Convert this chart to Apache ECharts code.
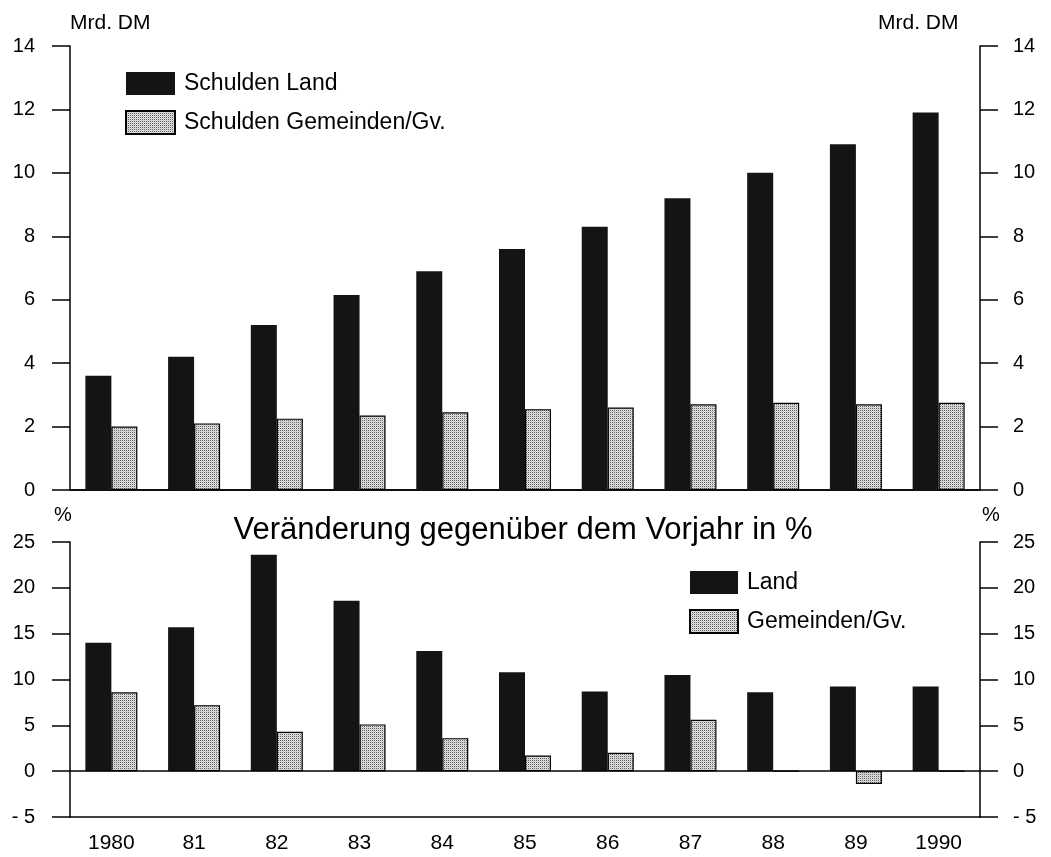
<!DOCTYPE html>
<html>
<head>
<meta charset="utf-8">
<title>Schulden Land und Gemeinden</title>
<script src="https://cdn.jsdelivr.net/npm/echarts@6/dist/echarts.min.js"></script>
<style>
html,body{margin:0;padding:0;background:#fff;}
#chart{width:1051px;height:857px;}
</style>
</head>
<body>
<div id="chart"></div>
<script>
// Jahre
var years = ['1980', '81', '82', '83', '84', '85', '86', '87', '88', '89', '1990'];
// Schulden in Mrd. DM
var schuldenLand = [3.6, 4.2, 5.2, 6.15, 6.9, 7.6, 8.3, 9.2, 10.0, 10.9, 11.9];
var schuldenGemeinden = [2.0, 2.1, 2.25, 2.35, 2.45, 2.55, 2.6, 2.7, 2.75, 2.7, 2.75];
// Veränderung gegenüber dem Vorjahr in %
var aenderungLand = [14.0, 15.7, 23.6, 18.6, 13.1, 10.8, 8.7, 10.5, 8.6, 9.25, 9.25];
var aenderungGemeinden = [8.6, 7.2, 4.3, 5.1, 3.6, 1.7, 2.0, 5.6, 0, -1.4, 0];

var FONT = '"Liberation Sans", Arial, Helvetica, sans-serif';

//gepunktetes Raster fuer die Gemeinden-Balken
function dotPattern(){
	var c = document.createElement('canvas');
	c.width = 2;
	c.height = 2;
	var ctx = c.getContext('2d');
	ctx.fillStyle = '#e0e0e0';
	ctx.fillRect(0, 0, 2, 2);
	ctx.fillStyle = '#606060';
	ctx.fillRect(0, 0, 1, 1);
	ctx.fillStyle = '#c8c8c8';
	ctx.fillRect(1, 1, 1, 1);
	return c;
}
var pattern = {image: dotPattern(), repeat: 'repeat'};

function yAxisDef(grid, pos, min, max, interval, margin){
	return {
		type: 'value',
		gridIndex: grid,
		position: pos,
		min: min,
		max: max,
		interval: interval,
		axisLine: {show: true, lineStyle: {color: '#000', width: 1.5}},
		axisTick: {show: true, length: 18, lineStyle: {color: '#000', width: 1.5}},
		splitLine: {show: false},
		axisLabel: {
			color: '#000',
			fontSize: 20,
			fontFamily: FONT,
			margin: margin,
			formatter: function(v){ return v < 0 ? '- ' + (-v) : '' + v; }
		}
	};
}

var landStyle = {color: '#141414'};
var gemStyle = {color: pattern, borderColor: '#000', borderWidth: 1.2};

var option = {
	backgroundColor: '#fff',
	animation: false,
	textStyle: {fontFamily: FONT, color: '#000'},
	grid: [
		{left: 70, top: 46, width: 910, height: 444},
		{left: 70, top: 542, width: 910, height: 275}
	],
	xAxis: [
		{
			type: 'category', gridIndex: 0, data: years, position: 'bottom',
			axisLine: {lineStyle: {color: '#000', width: 1.5}},
			axisTick: {alignWithLabel: true, length: 9, lineStyle: {color: '#000', width: 1.5}},
			axisLabel: {show: false}
		},
		{
			type: 'category', gridIndex: 0, data: years, position: 'top',
			axisLine: {lineStyle: {color: '#000', width: 1.5}},
			axisTick: {show: false},
			axisLabel: {show: false}
		},
		{
			type: 'category', gridIndex: 1, data: years, position: 'bottom',
			axisLine: {onZero: false, lineStyle: {color: '#000', width: 1.5}},
			axisTick: {alignWithLabel: true, length: 10, lineStyle: {color: '#000', width: 1.5}},
			axisLabel: {color: '#000', fontSize: 21, fontFamily: FONT, margin: 16}
		}
	],
	yAxis: [
		yAxisDef(0, 'left', 0, 14, 2, 35),
		yAxisDef(0, 'right', 0, 14, 2, 33),
		yAxisDef(1, 'left', -5, 25, 5, 35),
		yAxisDef(1, 'right', -5, 25, 5, 33)
	],
	legend: [
		{
			data: ['Schulden Land', 'Schulden Gemeinden/Gv.'],
			orient: 'vertical', left: 120, top: 67,
			icon: 'rect',
			itemWidth: 49, itemHeight: 23, itemGap: 15,
			selectedMode: false,
			textStyle: {fontSize: 23, fontFamily: FONT, color: '#000', padding: [0, 0, 0, 4]}
		},
		{
			data: ['Land', 'Gemeinden/Gv.'],
			orient: 'vertical', left: 684, top: 566,
			icon: 'rect',
			itemWidth: 48, itemHeight: 23, itemGap: 15,
			selectedMode: false,
			textStyle: {fontSize: 23, fontFamily: FONT, color: '#000', padding: [0, 0, 0, 4]}
		}
	],
	graphic: [
		{type: 'text', left: 70, top: 13, style: {text: 'Mrd. DM', font: '21px ' + FONT, fill: '#000'}},
		{type: 'text', left: 878, top: 13, style: {text: 'Mrd. DM', font: '21px ' + FONT, fill: '#000'}},
		{type: 'text', left: 54, top: 505, style: {text: '%', font: '20px ' + FONT, fill: '#000'}},
		{type: 'text', left: 982, top: 505, style: {text: '%', font: '20px ' + FONT, fill: '#000'}},
		{type: 'text', x: 523, y: 530, style: {text: 'Veränderung gegenüber dem Vorjahr in %', font: '31px ' + FONT, fill: '#000', align: 'center', verticalAlign: 'middle'}}
	],
	series: [
		{
			name: 'Schulden Land', type: 'bar', xAxisIndex: 0, yAxisIndex: 0,
			data: schuldenLand, barWidth: 26, barGap: '0%', itemStyle: landStyle
		},
		{
			name: 'Schulden Gemeinden/Gv.', type: 'bar', xAxisIndex: 0, yAxisIndex: 0,
			data: schuldenGemeinden, barWidth: 26, barGap: '0%', itemStyle: gemStyle
		},
		{
			name: 'Land', type: 'bar', xAxisIndex: 2, yAxisIndex: 2,
			data: aenderungLand, barWidth: 26, barGap: '0%', itemStyle: landStyle,
			markLine: {
				silent: true, symbol: 'none', label: {show: false},
				lineStyle: {color: '#000', width: 1.5, type: 'solid'},
				data: [{yAxis: 0}]
			}
		},
		{
			name: 'Gemeinden/Gv.', type: 'bar', xAxisIndex: 2, yAxisIndex: 2,
			data: aenderungGemeinden, barWidth: 26, barGap: '0%', itemStyle: gemStyle
		}
	]
};

var myChart = echarts.init(document.getElementById('chart'));
myChart.setOption(option);
</script>
</body>
</html>
